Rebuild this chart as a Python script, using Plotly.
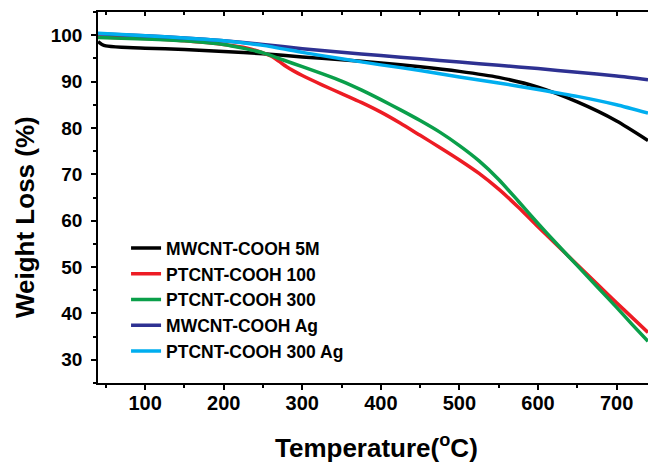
import plotly.graph_objects as go

# Temperature (°C) sample points and weight (%) for each series
t_black = [40, 45, 50, 70, 100, 150, 200, 250, 300, 350, 400, 450, 500, 550, 600, 650, 700, 740]
w_black = [98.6, 98.0, 97.7, 97.4, 97.2, 96.9, 96.5, 96.0, 95.3, 94.7, 94.0, 93.2, 92.2, 90.9, 88.8, 85.6, 81.5, 77.3]

t_red = [40, 100, 150, 200, 230, 250, 260, 270, 280, 290, 300, 325, 350, 375, 400, 425, 450, 475, 500, 525, 550, 575, 600, 625, 650, 675, 700, 720, 740]
w_red = [99.6, 99.3, 98.8, 98.0, 97.2, 96.2, 95.5, 94.4, 93.2, 92.2, 91.3, 89.3, 87.4, 85.5, 83.4, 81.0, 78.4, 75.8, 73.1, 70.2, 66.8, 62.9, 58.7, 54.6, 50.5, 46.4, 42.3, 39.1, 35.9]

t_green = [40, 100, 150, 200, 250, 275, 300, 325, 350, 375, 400, 425, 450, 475, 500, 525, 550, 575, 600, 625, 650, 675, 700, 720, 740]
w_green = [99.5, 99.2, 98.8, 98.0, 96.2, 94.7, 93.2, 91.7, 90.1, 88.2, 86.1, 83.9, 81.6, 79.1, 76.2, 72.9, 68.9, 64.2, 59.4, 54.8, 50.3, 45.8, 41.3, 37.6, 34.0]

t_navy = [40, 100, 150, 200, 250, 300, 350, 400, 450, 500, 550, 600, 650, 700, 740]
w_navy = [100.3, 99.9, 99.4, 98.8, 98.0, 97.1, 96.3, 95.6, 94.9, 94.2, 93.5, 92.8, 92.0, 91.2, 90.4]

t_cyan = [40, 100, 150, 200, 250, 300, 350, 400, 450, 500, 550, 600, 650, 700, 740]
w_cyan = [100.4, 99.9, 99.4, 98.8, 97.8, 96.3, 94.9, 93.6, 92.4, 91.0, 89.7, 88.3, 86.8, 85.0, 83.2]

names = ["MWCNT-COOH 5M", "PTCNT-COOH 100", "PTCNT-COOH 300", "MWCNT-COOH Ag", "PTCNT-COOH 300 Ag"]
colors = ["#000000", "#ED1C24", "#0A9F4A", "#2E3192", "#00AEEF"]
series = [(t_black, w_black), (t_red, w_red), (t_green, w_green), (t_navy, w_navy), (t_cyan, w_cyan)]

x_ticks = [100, 200, 300, 400, 500, 600, 700]
y_ticks = [30, 40, 50, 60, 70, 80, 90, 100]
x_title = "Temperature(<sup>o</sup>C)"
y_title = "Weight Loss (%)"

fig = go.Figure()
for (t, w), n, c in zip(series, names, colors):
    fig.add_trace(go.Scatter(x=t, y=w, mode="lines", name=n,
                             line=dict(color=c, width=3.5, shape="spline", smoothing=0.6)))

# invisible trace to carry the mirrored top axis
fig.add_trace(go.Scatter(x=t_black, y=w_black, xaxis="x2", mode="lines", opacity=0,
                         showlegend=False, hoverinfo="skip", line=dict(width=0)))

font_family = "Liberation Sans, Arial, sans-serif"

fig.update_layout(
    width=648, height=462,
    margin=dict(l=98, r=0, t=12, b=79),
    paper_bgcolor="white", plot_bgcolor="white",
    font=dict(family=font_family, color="black", weight="bold"),
    showlegend=True,
    legend=dict(x=0.051, y=0.412, xanchor="left", yanchor="top",
                font=dict(size=17.5, family=font_family, weight="bold"),
                bgcolor="rgba(0,0,0,0)", tracegroupgap=0),
    xaxis=dict(range=[40, 740], tickvals=x_ticks, ticks="outside", ticklen=5, tickwidth=1.5,
               tickcolor="black", showline=True, linecolor="black", linewidth=1.5,
               showgrid=False, zeroline=False,
               minor=dict(dtick=50, tick0=0, ticks="outside", ticklen=3, tickwidth=1.5, tickcolor="black"),
               tickfont=dict(size=20, family=font_family, weight="bold"),
               ticklabelstandoff=-4),
    xaxis2=dict(range=[40, 740], overlaying="x", side="top", ticks="inside", ticklen=4, tickwidth=1.5,
                tickcolor="black", tickvals=x_ticks, showticklabels=False, showline=True,
                linecolor="black", linewidth=1.5, showgrid=False, zeroline=False,
                minor=dict(dtick=50, tick0=0, ticks="inside", ticklen=3, tickwidth=1.5, tickcolor="black")),
    yaxis=dict(range=[25, 105], tickvals=y_ticks, ticks="outside", ticklen=5, tickwidth=1.5,
               tickcolor="black", showline=True, linecolor="black", linewidth=1.5,
               showgrid=False, zeroline=False,
               minor=dict(dtick=5, tick0=0, ticks="outside", ticklen=3, tickwidth=1.5, tickcolor="black"),
               tickfont=dict(size=19, family=font_family, weight="bold"),
               ticklabelstandoff=5),
    annotations=[
        dict(text=y_title, xref="paper", yref="paper", x=-0.1327, y=0.4474,
             xanchor="center", yanchor="middle", textangle=-90, showarrow=False,
             font=dict(size=26, family=font_family, weight="bold", color="black")),
        dict(text=x_title, xref="paper", yref="paper", x=0.507, y=-0.1725,
             xanchor="center", yanchor="middle", showarrow=False,
             font=dict(size=26, family=font_family, weight="bold", color="black")),
    ],
)

fig.write_html("out.html", config={"displayModeBar": False},
               post_script="document.body.style.margin='0';document.body.style.padding='0';")
